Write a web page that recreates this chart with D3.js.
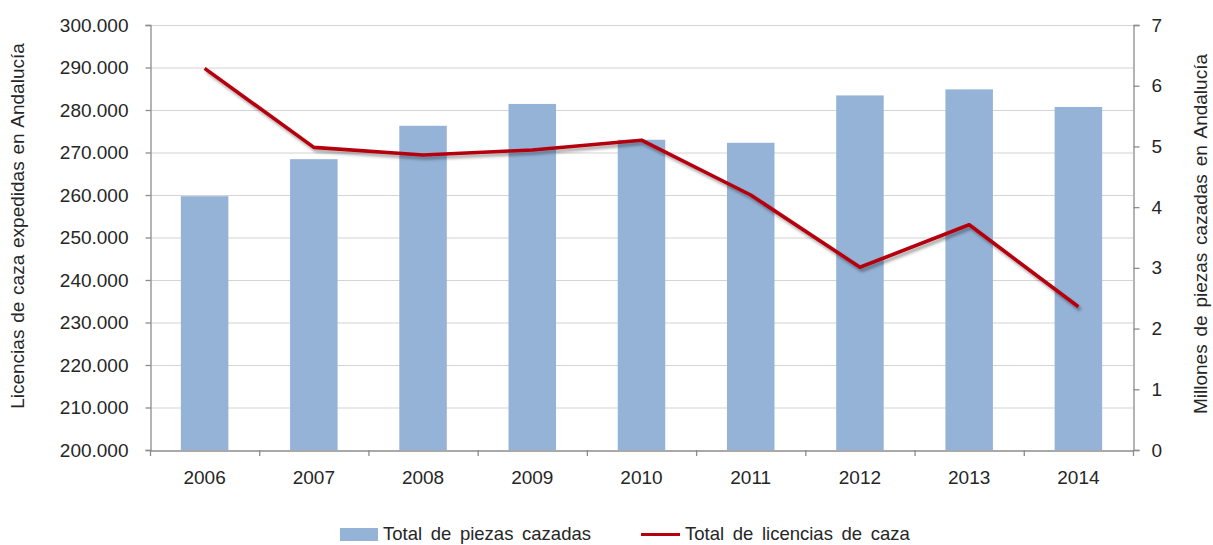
<!DOCTYPE html>
<html>
<head>
<meta charset="utf-8">
<script src="https://cdn.jsdelivr.net/npm/d3@7"></script>
<style>
  body { margin: 0; background: #fff; }
  svg { font-family: "Liberation Sans", Arial, sans-serif; }
  .tick text { fill: #262626; }
</style>
</head>
<body>
<div id="chart"></div>
<script>
// ---- data ----
var years = ["2006", "2007", "2008", "2009", "2010", "2011", "2012", "2013", "2014"];
// Total de piezas cazadas (millones, eje derecho)
var piezas = [4.18, 4.79, 5.34, 5.70, 5.11, 5.06, 5.84, 5.94, 5.65];
// Total de licencias de caza (eje izquierdo)
var licencias = [289800, 271200, 269400, 270600, 272900, 260000, 243000, 253000, 233700];
var leftTicks = d3.range(200000, 300001, 10000);
var rightTicks = [0, 1, 2, 3, 4, 5, 6, 7];

var W = 1213, H = 545;
var margin = {top: 25, right: 80, bottom: 95, left: 150};
var x0 = margin.left, x1 = W - margin.right, yTop = margin.top, yBot = H - margin.bottom;

var es = d3.formatLocale({decimal: ",", thousands: ".", grouping: [3], currency: ["", " €"]});
var fmt = es.format(",d");

var svg = d3.select("#chart").append("svg")
    .attr("width", W)
    .attr("height", H);

var defs = svg.append("defs");
var shadow = defs.append("filter").attr("id", "shadow")
    .attr("x", "-5%").attr("y", "-20%").attr("width", "110%").attr("height", "140%");
shadow.append("feDropShadow")
    .attr("dx", 2).attr("dy", 3).attr("stdDeviation", 1.8)
    .attr("flood-color", "#000").attr("flood-opacity", 0.35);

// scales
var xScale = d3.scaleBand().domain(years).range([x0, x1])
    .paddingInner(0.565).paddingOuter(0.2825);
var yLeft = d3.scaleLinear().domain([200000, 300000]).range([yBot, yTop]);
var yRight = d3.scaleLinear().domain([0, 7]).range([yBot, yTop]);

// gridlines
svg.append("g").attr("class", "grid")
  .selectAll("line").data(leftTicks.slice(1)).enter().append("line")
    .attr("x1", x0).attr("x2", x1)
    .attr("y1", function(d) { return yLeft(d) + 0.5; })
    .attr("y2", function(d) { return yLeft(d) + 0.5; })
    .attr("stroke", "#d4d4d4").attr("stroke-width", 1.2);

// bars
svg.append("g").attr("id", "bars")
  .selectAll("rect").data(years).enter().append("rect")
    .attr("x", function(d) { return xScale(d); })
    .attr("width", xScale.bandwidth())
    .attr("y", function(d, i) { return yRight(piezas[i]); })
    .attr("height", function(d, i) { return yBot - yRight(piezas[i]); })
    .attr("fill", "#95b3d7");

// axes
var leftAxis = d3.axisLeft(yLeft).tickValues(leftTicks).tickFormat(fmt).tickSize(5).tickPadding(12);
var rightAxis = d3.axisRight(yRight).tickValues(rightTicks).tickFormat(d3.format("d")).tickSize(6).tickPadding(12);
var bottomAxis = d3.axisBottom(xScale).tickSize(0).tickPadding(20);

var gL = svg.append("g").attr("transform", "translate(" + (x0 + 0.5) + ",0)").call(leftAxis);
var gR = svg.append("g").attr("transform", "translate(" + (x1 + 0.5) + ",0)").call(rightAxis);
var gB = svg.append("g").attr("transform", "translate(0," + (yBot + 0.5) + ")").call(bottomAxis);

[gL, gR, gB].forEach(function(g) {
  g.select(".domain").attr("stroke", "#8c8c8c").attr("stroke-width", 1.3);
  g.selectAll(".tick line").attr("stroke", "#8c8c8c").attr("stroke-width", 1.3);
  g.selectAll(".tick text").attr("font-size", 19).attr("font-family", "Liberation Sans, Arial, sans-serif");
});
gL.selectAll(".tick text").attr("dx", -5);

// category separator ticks on x axis
svg.append("g").selectAll("line")
  .data(d3.range(years.length + 1)).enter().append("line")
    .attr("x1", function(k) { return x0 + k * xScale.step() + 0.5; })
    .attr("x2", function(k) { return x0 + k * xScale.step() + 0.5; })
    .attr("y1", yBot).attr("y2", yBot + 6)
    .attr("stroke", "#8c8c8c").attr("stroke-width", 1.3);

// line series
var line = d3.line()
    .x(function(d, i) { return xScale(years[i]) + xScale.bandwidth() / 2; })
    .y(function(d) { return yLeft(d); });

svg.append("path").datum(licencias)
    .attr("d", line)
    .attr("fill", "none")
    .attr("stroke", "#b4000f")
    .attr("stroke-width", 3.6)
    .attr("stroke-linejoin", "round")
    .attr("filter", "url(#shadow)");

// axis titles
svg.append("text")
    .attr("transform", "translate(24,226) rotate(-90)")
    .attr("text-anchor", "middle")
    .attr("font-size", 19).attr("fill", "#262626")
    .attr("word-spacing", 1.5)
    .text("Licencias de caza expedidas en Andalucía");

svg.append("text")
    .attr("transform", "translate(1207,234) rotate(-90)")
    .attr("text-anchor", "middle")
    .attr("font-size", 19).attr("fill", "#262626")
    .attr("word-spacing", 2.5)
    .text("Millones de piezas cazadas en Andalucía");

// legend
var legend = svg.append("g").attr("transform", "translate(0,534)");
legend.append("rect").attr("x", 340).attr("y", -6).attr("width", 38).attr("height", 13).attr("fill", "#95b3d7");
legend.append("text").attr("x", 383).attr("y", 6).attr("font-size", 18.5).attr("fill", "#262626")
    .attr("word-spacing", 3.5).text("Total de piezas cazadas");
legend.append("line").attr("x1", 641).attr("x2", 680).attr("y1", 0.5).attr("y2", 0.5)
    .attr("stroke", "#b4000f").attr("stroke-width", 3);
legend.append("text").attr("x", 685).attr("y", 6).attr("font-size", 18.5).attr("fill", "#262626")
    .attr("word-spacing", 3.5).text("Total de licencias de caza");
</script>
</body>
</html>
